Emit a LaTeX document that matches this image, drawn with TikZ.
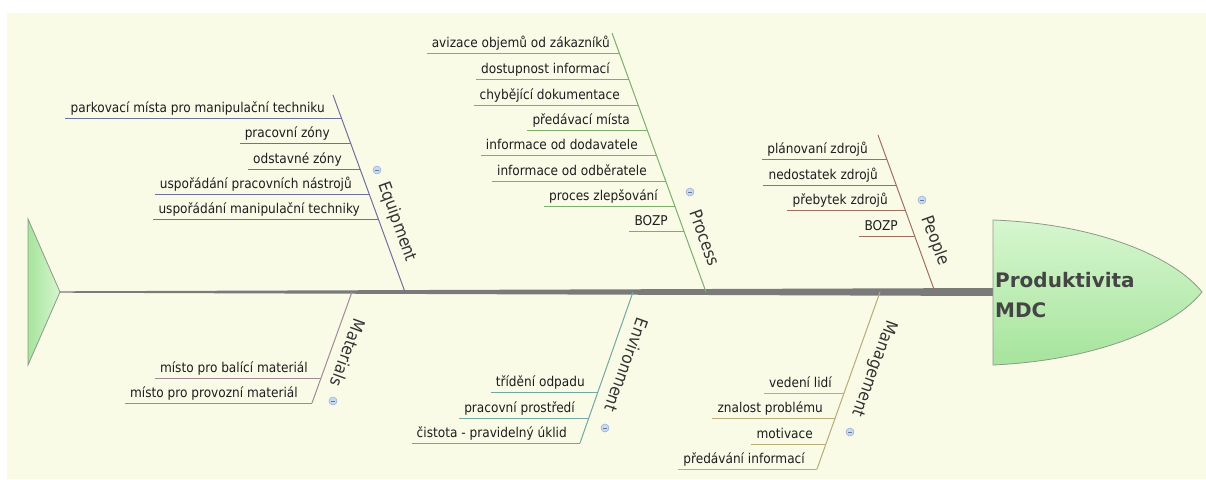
\documentclass[tikz,border=0pt]{standalone}
\usepackage{fontspec}
\setmainfont{DejaVu Sans Condensed}
\newfontfamily\headfont{DejaVu Sans}
\usetikzlibrary{calc}

\definecolor{bgcream}{HTML}{F9FBE7}
\definecolor{txt}{HTML}{1E1E1E}
\definecolor{labeltxt}{HTML}{333333}
\definecolor{headtxt}{HTML}{454545}
\definecolor{spinegray}{HTML}{7A7A7A}
\definecolor{fishedge}{HTML}{8C9A88}
\definecolor{greenlight}{HTML}{D6F6CF}
\definecolor{greenmid}{HTML}{A6E49C}
\definecolor{colE}{HTML}{7070A0}
\definecolor{colP}{HTML}{7DAE6C}
\definecolor{colPe}{HTML}{A0705E}
\definecolor{colM}{HTML}{A08A98}
\definecolor{colEn}{HTML}{72A8A2}
\definecolor{colMg}{HTML}{B8AC78}
\definecolor{foldfill}{HTML}{C9D9F2}
\definecolor{folddraw}{HTML}{93AAD6}

\tikzset{
  subtxt/.style={font=\fontsize{13.5}{16}\selectfont, text=txt, inner sep=0pt},
  cat/.style={font=\fontsize{17}{20}\selectfont, text=labeltxt, inner sep=0pt},
  Eline/.style={draw=colE, line width=1pt},
  Pline/.style={draw=colP, line width=1pt},
  Peline/.style={draw=colPe, line width=1pt},
  Mline/.style={draw=colM, line width=1pt},
  Enline/.style={draw=colEn, line width=1pt},
  Mgline/.style={draw=colMg, line width=1pt},
  fold/.style={circle, minimum size=8pt, inner sep=0pt, fill=foldfill, draw=folddraw, line width=0.5pt,
    path picture={\draw[folddraw!70!black, line width=0.6pt]
      ([xshift=-2pt]path picture bounding box.center) -- ([xshift=2pt]path picture bounding box.center);}},
  headtext/.style={font=\headfont\bfseries\fontsize{20}{24}\selectfont, text=headtxt, inner sep=0pt},
}

% one cause: #1 branch, #2 y of its line, #3 right edge of its text, #4 name, #5 text
\newcommand\fishitem[5]{%
  \node[subtxt, anchor=base east] (#4) at (#3,{#2-5.5}) {#5};
  \coordinate (#4d) at (intersection cs: first line={(#1t)--(#1b)}, second line={(0,#2)--(1000,#2)});
  \draw[#1line] ([xshift=-5pt]#4.west |- #4d) -- (#4d);
}

\begin{document}
\begin{tikzpicture}[x=1pt,y=-1pt]
\useasboundingbox (0,0) rectangle (1206,479);
\fill[white] (0,0) rectangle (1206,479);
\fill[bgcream] (7,13) rectangle (1206,479);

% tail
\draw[fishedge, line width=0.8pt, left color=greenmid, right color=greenlight]
  (28,219) -- (60,292) -- (28,365) -- cycle;
\coordinate (tailtip) at (60,292);
\coordinate (headback) at (993,292);

% spine, tapering towards the head
\fill[spinegray] (60,291.3) -- (993,288) -- (993,296) -- (60,292.7) -- cycle;

% head
\draw[fishedge, line width=0.8pt, top color=greenlight, bottom color=greenmid]
  (993,220) .. controls (1100,224) and (1175,258) .. (1202,292)
  .. controls (1175,326) and (1100,360) .. (993,365) -- cycle;
\node[headtext, anchor=base west] (head1) at (995,287) {Produktivita};
\node[headtext, anchor=base west] (head2) at (995,317) {MDC};

% branch bones
\coordinate (Et) at (333,95);   \coordinate (Eb) at (405,292);
\coordinate (Pt) at (612,33);   \coordinate (Pb) at (706,292);
\coordinate (Pet) at (878,135); \coordinate (Peb) at (935,292);
\coordinate (Mt) at (352,292);  \coordinate (Mb) at (312,403);
\coordinate (Ent) at (633,292); \coordinate (Enb) at (580,443);
\coordinate (Mgt) at (880,292); \coordinate (Mgb) at (817,469);
\draw[Eline] (Et) -- (Eb);
\draw[Pline] (Pt) -- (Pb);
\draw[Peline] (Pet) -- (Peb);
\draw[Mline] (Mt) -- (Mb);
\draw[Enline] (Ent) -- (Enb);
\draw[Mgline] (Mgt) -- (Mgb);

% Equipment
\fishitem{E}{118}{325}{e1}{parkovací místa pro manipulační techniku}
\fishitem{E}{143}{330}{e2}{pracovní zóny}
\fishitem{E}{169}{342}{e3}{odstavné zóny}
\fishitem{E}{194}{352}{e4}{uspořádání pracovních nástrojů}
\fishitem{E}{219}{360}{e5}{uspořádání manipulační techniky}
\node[cat, rotate=-70] (Elab) at (397,222) {Equipment};
\node[fold] (Efold) at (377,170) {};

% Process
\fishitem{P}{53}{610}{p1}{avizace objemů od zákazníků}
\fishitem{P}{79}{610}{p2}{dostupnost informací}
\fishitem{P}{105}{620}{p3}{chybějící dokumentace}
\fishitem{P}{130}{630}{p4}{předávací místa}
\fishitem{P}{155}{638}{p5}{informace od dodavatele}
\fishitem{P}{181}{647}{p6}{informace od odběratele}
\fishitem{P}{206}{658}{p7}{proces zlepšování}
\fishitem{P}{231}{668}{p8}{BOZP}
\node[cat, rotate=-70] (Plab) at (705,238) {Process};
\node[fold] (Pfold) at (690,192) {};

% People
\fishitem{Pe}{159}{868}{q1}{plánovaní zdrojů}
\fishitem{Pe}{185}{878}{q2}{nedostatek zdrojů}
\fishitem{Pe}{210}{888}{q3}{přebytek zdrojů}
\fishitem{Pe}{236}{898}{q4}{BOZP}
\node[cat, rotate=-70] (Pelab) at (935,241) {People};
\node[fold] (Pefold) at (922,200) {};

% Materials
\fishitem{M}{378}{308}{m1}{místo pro balící materiál}
\fishitem{M}{403}{298}{m2}{místo pro provozní materiál}
\node[cat, rotate=-110] (Mlab) at (348,353) {Materials};
\node[fold] (Mfold) at (333,401) {};

% Environment
\fishitem{En}{392}{585}{n1}{třídění odpadu}
\fishitem{En}{418}{575}{n2}{pracovní prostředí}
\fishitem{En}{443}{567}{n3}{čistota - pravidelný úklid}
\node[cat, rotate=-110] (Enlab) at (627,365) {Environment};
\node[fold] (Enfold) at (605,428) {};

% Management
\fishitem{Mg}{393}{832}{g1}{vedení lidí}
\fishitem{Mg}{418}{823}{g2}{znalost problému}
\fishitem{Mg}{444}{813}{g3}{motivace}
\fishitem{Mg}{469}{805}{g4}{předávání informací}
\node[cat, rotate=-110] (Mglab) at (874,368) {Management};
\node[fold] (Mgfold) at (850,432) {};
\end{tikzpicture}
\end{document}
